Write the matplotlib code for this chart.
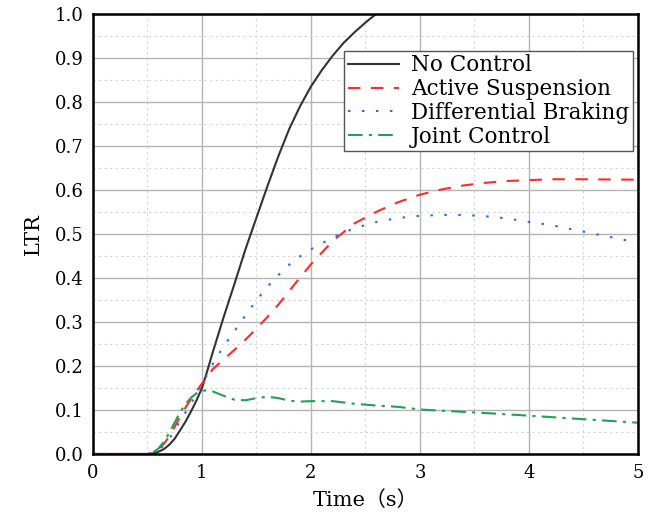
import numpy as np
import matplotlib
matplotlib.use("Agg")
import matplotlib.pyplot as plt
from matplotlib.ticker import MultipleLocator

plt.rcParams['font.family'] = ['DejaVu Serif', 'Noto Sans CJK SC']

# data
t_nc = [0, 0.5, 0.55, 0.6, 0.65, 0.7, 0.75, 0.8, 0.85, 0.9, 0.95, 1.0, 1.05, 1.1,
        1.15, 1.2, 1.3, 1.4, 1.5, 1.6, 1.7, 1.8, 1.9, 2.0, 2.1, 2.2, 2.3, 2.4,
        2.5, 2.6, 2.7, 2.8]
ltr_nc = [0, 0, 0.001, 0.005, 0.011, 0.021, 0.035, 0.054, 0.074, 0.097, 0.122,
          0.15, 0.19, 0.232, 0.272, 0.312, 0.388, 0.466, 0.537, 0.608, 0.676,
          0.738, 0.79, 0.835, 0.872, 0.905, 0.934, 0.958, 0.98, 1.0, 1.017, 1.032]

t_as = [0, 0.5, 0.55, 0.6, 0.65, 0.7, 0.75, 0.8, 0.85, 0.9, 0.95, 1.0, 1.1, 1.2,
        1.3, 1.4, 1.5, 1.6, 1.7, 1.8, 1.9, 2.0, 2.2, 2.4, 2.6, 2.8, 3.0, 3.2,
        3.4, 3.6, 3.8, 4.0, 4.2, 4.5, 5.0]
ltr_as = [0, 0, 0.003, 0.01, 0.023, 0.04, 0.062, 0.085, 0.106, 0.125, 0.143, 0.16,
          0.193, 0.215, 0.237, 0.26, 0.285, 0.311, 0.339, 0.37, 0.401, 0.431,
          0.484, 0.524, 0.55, 0.572, 0.589, 0.601, 0.61, 0.616, 0.62, 0.622,
          0.624, 0.624, 0.623]

t_db = [0, 0.5, 0.55, 0.6, 0.65, 0.7, 0.75, 0.8, 0.85, 0.9, 0.95, 1.0, 1.1, 1.2,
        1.3, 1.4, 1.5, 1.6, 1.7, 1.8, 1.9, 2.0, 2.2, 2.4, 2.6, 2.8, 3.0, 3.2,
        3.4, 3.6, 3.8, 4.0, 4.2, 4.4, 4.6, 4.8, 5.0]
ltr_db = [0, 0, 0.002, 0.008, 0.02, 0.035, 0.054, 0.075, 0.095, 0.115, 0.136,
          0.158, 0.205, 0.245, 0.28, 0.315, 0.349, 0.38, 0.406, 0.43, 0.449,
          0.465, 0.492, 0.513, 0.527, 0.536, 0.541, 0.543, 0.543, 0.54, 0.535,
          0.527, 0.52, 0.51, 0.50, 0.49, 0.48]

t_jc = [0, 0.5, 0.55, 0.6, 0.65, 0.7, 0.75, 0.8, 0.85, 0.9, 0.95, 1.0, 1.05, 1.1,
        1.2, 1.3, 1.4, 1.5, 1.6, 1.7, 1.8, 1.9, 2.0, 2.2, 2.4, 2.6, 2.8, 3.0,
        3.3, 3.6, 4.0, 4.5, 5.0]
ltr_jc = [0, 0, 0.004, 0.012, 0.028, 0.048, 0.072, 0.095, 0.114, 0.128, 0.138,
          0.143, 0.145, 0.142, 0.132, 0.123, 0.122, 0.127, 0.13, 0.127, 0.121,
          0.119, 0.12, 0.12, 0.114, 0.11, 0.107, 0.101, 0.097, 0.093, 0.087,
          0.079, 0.071]

labels = ["No Control", "Active Suspension", "Differential Braking", "Joint Control"]

fig = plt.figure(figsize=(6.54, 5.16), dpi=100)
ax = fig.add_axes([0.1422, 0.1202, 0.9755 - 0.1422, 0.9734 - 0.1202])

ax.plot(t_nc, ltr_nc, color='#333333', lw=1.5, label=labels[0])
ax.plot(t_as, ltr_as, color='#ff2a2a', lw=1.5, dashes=(6, 5), label=labels[1])
ax.plot(t_db, ltr_db, color='#2a6fe8', lw=1.5, dashes=(1.2, 5.5), label=labels[2])
ax.plot(t_jc, ltr_jc, color='#22a055', lw=1.5, dashes=(7, 3, 1.5, 3), label=labels[3])

ax.set_xlim(0, 5)
ax.set_ylim(0, 1)
ax.xaxis.set_major_locator(MultipleLocator(1))
ax.xaxis.set_minor_locator(MultipleLocator(0.5))
ax.yaxis.set_major_locator(MultipleLocator(0.1))
ax.yaxis.set_minor_locator(MultipleLocator(0.05))
ax.yaxis.set_major_formatter(matplotlib.ticker.FormatStrFormatter('%.1f'))
ax.grid(True, which='major', color='#b4b4b4', lw=1.0)
ax.grid(True, which='minor', color='#d4d4d4', lw=0.8, ls=(0, (2, 3)))
ax.set_axisbelow(True)
ax.tick_params(which='both', length=0, labelsize=13, pad=7)
for s in ax.spines.values():
    s.set_linewidth(1.8)
    s.set_color('black')

ax.set_xlabel("Time（s）", fontsize=15, labelpad=6)
ax.set_ylabel("LTR", fontsize=15, labelpad=8)

leg = ax.legend(loc='upper right', bbox_to_anchor=(0.990, 0.915), borderaxespad=0,
                fontsize=15.5, fancybox=False, framealpha=1, edgecolor='#555555',
                handlelength=2.4, handletextpad=0.55, borderpad=0.15, labelspacing=0.08)
leg.get_frame().set_linewidth(1.0)

fig.savefig("out.png", dpi=100)
